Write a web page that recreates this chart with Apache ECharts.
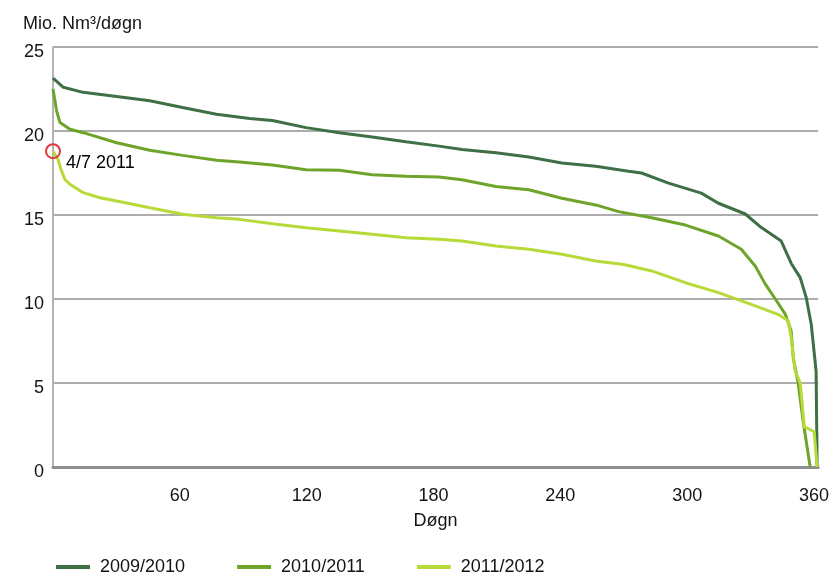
<!DOCTYPE html>
<html>
<head>
<meta charset="utf-8">
<style>
  html, body { margin: 0; padding: 0; background: #ffffff; }
  #chart { width: 832px; height: 582px; }
</style>
<script src="https://cdn.jsdelivr.net/npm/echarts@6/dist/echarts.min.js"></script>
</head>
<body>
<div id="chart"></div>
<script>
// ---- data ----
const yAxisTitle = 'Mio. Nm³/døgn';
const xAxisTitle = 'Døgn';
const seriesNames = ['2009/2010', '2010/2011', '2011/2012'];

const days0910 = [0, 4.9, 14.2, 30.1, 45.8, 61.3, 77.3, 93, 103.8, 119.7, 135.4, 151, 166.9, 182.6, 193.5, 209.5, 225.1, 240.7, 256.7, 272.3, 278.4, 291.2, 306.7, 314.8, 327.5, 335.1, 344.5, 349.3, 353.5, 356.3, 358.7, 361, 361.5];
const vals0910 = [23.15, 22.6, 22.3, 22.06, 21.8, 21.4, 21.0, 20.75, 20.63, 20.2, 19.9, 19.64, 19.36, 19.1, 18.9, 18.7, 18.45, 18.1, 17.9, 17.6, 17.5, 16.9, 16.3, 15.7, 15.06, 14.25, 13.45, 12.1, 11.27, 10.1, 8.5, 5.7, 0];

const days1011 = [0, 1.7, 3.3, 8, 14.3, 30.1, 45.8, 61.3, 77.3, 88.2, 103.8, 119.7, 135.4, 151, 166.9, 182.6, 193.5, 209.5, 225.1, 240.7, 256.7, 267.6, 283.2, 299.2, 314.8, 325.6, 332.2, 336.9, 341.7, 346.4, 349.2, 350.2, 352.5, 354.9, 358.2];
const vals1011 = [22.5, 21.2, 20.5, 20.1, 19.9, 19.3, 18.85, 18.55, 18.26, 18.15, 17.98, 17.7, 17.66, 17.4, 17.3, 17.26, 17.1, 16.7, 16.5, 16.0, 15.6, 15.2, 14.84, 14.4, 13.75, 12.96, 11.96, 10.9, 10.0, 9.1, 8.1, 6.5, 5.0, 2.7, 0];

const days1112 = [0, 2.4, 3.8, 5.7, 8, 14.3, 22.2, 30.1, 45.8, 61.3, 77.3, 88.2, 103.8, 119.7, 135.4, 151, 166.9, 182.6, 193.5, 209.5, 225.1, 240.7, 256.7, 270, 283.2, 299.2, 314.8, 330.3, 343, 347.8, 349.2, 351.1, 353.5, 355.4, 360.1, 361.5];
const vals1112 = [18.8, 18.3, 17.7, 17.1, 16.83, 16.33, 16.03, 15.83, 15.43, 15.04, 14.84, 14.74, 14.48, 14.24, 14.05, 13.85, 13.65, 13.55, 13.45, 13.15, 12.96, 12.66, 12.26, 12.05, 11.67, 10.97, 10.38, 9.68, 9.09, 8.7, 7.7, 5.7, 5.0, 2.4, 2.1, 0];

const markDay = 0;
const markValue = 18.8;
const markText = '4/7 2011';

const xTicks = [60, 120, 180, 240, 300, 360];
const yTicks = [0, 5, 10, 15, 20, 25];

// ---- build chart ----
const colors = ['#3e6f45', '#6fa42a', '#b7da38'];
const pairs = (d, v) => d.map((x, i) => [x, v[i]]);
const dataSets = [pairs(days0910, vals0910), pairs(days1011, vals1011), pairs(days1112, vals1112)];

const chart = echarts.init(document.getElementById('chart'), null, { renderer: 'canvas' });
const FONT = 'Liberation Sans, Arial, Helvetica, sans-serif';
const TXT = '#141414';

chart.setOption({
  animation: false,
  backgroundColor: '#ffffff',
  title: {
    text: yAxisTitle,
    left: 18, top: 10,
    textStyle: { fontFamily: FONT, fontSize: 18, fontWeight: 'normal', color: TXT }
  },
  grid: { left: 53, right: 12, top: 47, bottom: 115, containLabel: false },
  legend: {
    data: seriesNames,
    left: 51, top: 553,
    icon: 'rect', itemWidth: 34, itemHeight: 4, itemGap: 52,
    textStyle: { fontFamily: FONT, fontSize: 18, color: TXT, padding: [0, 0, 0, 5] }
  },
  xAxis: {
    type: 'value', min: 0, max: 362, interval: 60,
    name: xAxisTitle, nameLocation: 'middle', nameGap: 45,
    nameTextStyle: { fontFamily: FONT, fontSize: 18, color: TXT },
    axisLine: { show: true, lineStyle: { color: '#8e8e8e', width: 3 } },
    axisTick: { show: false },
    splitLine: { show: false },
    axisLabel: {
      fontFamily: FONT, fontSize: 18, color: TXT, margin: 20,
      showMaxLabel: false, showMinLabel: false,
      formatter: v => (xTicks.indexOf(v) >= 0 ? String(v) : '')
    }
  },
  yAxis: {
    type: 'value', min: 0, max: 25, interval: 5,
    axisLine: { show: true, lineStyle: { color: '#b4b4b4', width: 2 } },
    axisTick: { show: false },
    splitLine: { show: true, lineStyle: { color: '#adadad', width: 2 } },
    axisLabel: {
      fontFamily: FONT, fontSize: 18, color: TXT, margin: 9,
      verticalAlign: 'top', padding: [-4, 0, 0, 0],
      formatter: v => (yTicks.indexOf(v) >= 0 ? String(v) : '')
    }
  },
  series: [
    ...seriesNames.map((n, i) => ({
      name: n, type: 'line', data: dataSets[i],
      symbol: 'none', smooth: false,
      lineStyle: { color: colors[i], width: 3 },
      itemStyle: { color: colors[i] },
      z: 3 + i
    })),
    {
      name: 'mark', type: 'scatter', data: [[markDay, markValue]],
      symbol: 'circle', symbolSize: 14,
      itemStyle: { color: 'rgba(255,255,255,0)', borderColor: '#e2373a', borderWidth: 2, opacity: 1 },
      label: {
        show: true, formatter: markText, position: 'right',
        offset: [0, 12], opacity: 1,
        fontFamily: FONT, fontSize: 18, color: '#000000',
        textBorderWidth: 0
      },
      emphasis: { disabled: true },
      z: 10
    }
  ]
});
</script>
</body>
</html>
